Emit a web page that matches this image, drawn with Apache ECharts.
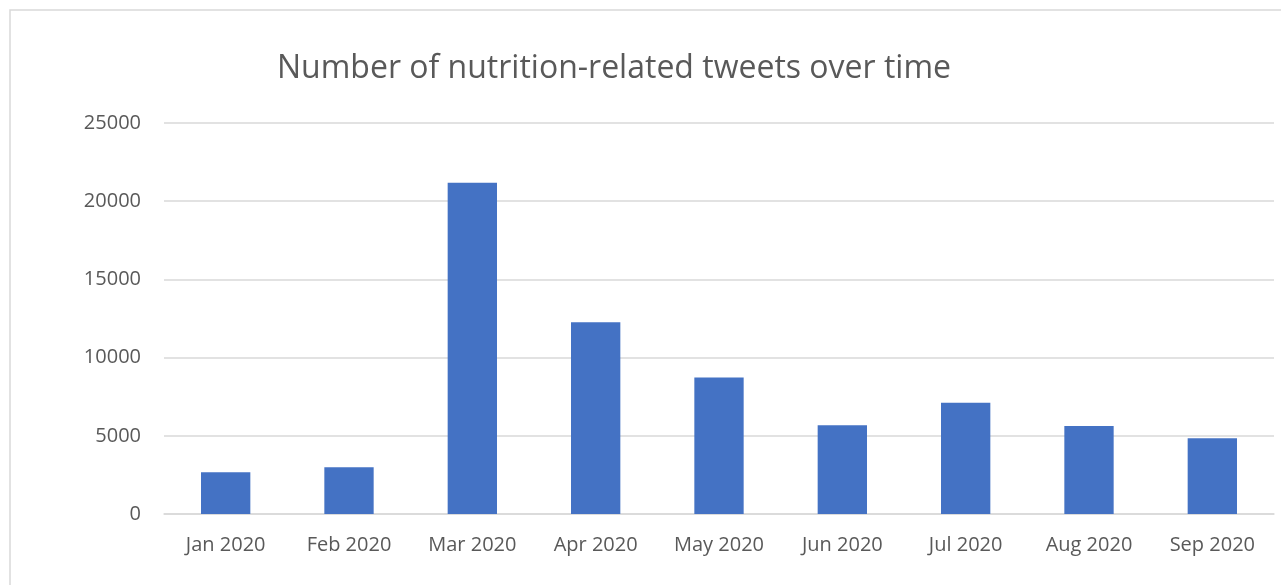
<!DOCTYPE html>
<html>
<head>
<meta charset="utf-8">
<script src="https://cdn.jsdelivr.net/npm/echarts@6/dist/echarts.min.js"></script>
<style>
html,body{margin:0;padding:0;background:#fff;}
#chart{width:1281px;height:585px;}
</style>
</head>
<body>
<div id="chart"></div>
<script>
const titleText = "Number of nutrition-related tweets over time";
const categories = ["Jan 2020","Feb 2020","Mar 2020","Apr 2020","May 2020","Jun 2020","Jul 2020","Aug 2020","Sep 2020"];
const tweetCounts = [2670, 2990, 21180, 12260, 8720, 5670, 7120, 5630, 4840];
const yTicks = [0, 5000, 10000, 15000, 20000, 25000];

const chart = echarts.init(document.getElementById('chart'), null, {renderer:'canvas'});
const font = '"Open Sans", "Noto Sans", sans-serif';
chart.setOption({
  animation:false,
  backgroundColor:'#ffffff',
  title:{
    text:titleText,
    left:609, top:48, textAlign:'center',
    textStyle:{fontFamily:font, fontSize:32, fontWeight:'normal', color:'#595959'}
  },
  graphic:[{
    type:'rect', silent:true,
    shape:{x:10, y:10, width:1290, height:600},
    style:{fill:'none', stroke:'#d9d9d9', lineWidth:1.5}
  }],
  grid:{left:164, right:7, top:123, bottom:71, containLabel:false},
  xAxis:{
    type:'category', data:categories,
    axisLine:{show:true, lineStyle:{color:'#d9d9d9', width:1.5}},
    axisTick:{show:false},
    axisLabel:{fontFamily:font, fontSize:20, color:'#595959', margin:21}
  },
  yAxis:{
    type:'value', min:yTicks[0], max:yTicks[yTicks.length-1], interval:5000,
    axisLine:{show:false}, axisTick:{show:false},
    splitLine:{lineStyle:{color:'#d9d9d9', width:1.5}},
    axisLabel:{fontFamily:font, fontSize:20, color:'#595959', margin:23,
      formatter:function(v){return String(v);}}
  },
  series:[{
    type:'bar', data:tweetCounts, barWidth:'40%',
    itemStyle:{color:'#4472c4'}
  }]
});
</script>
</body>
</html>
